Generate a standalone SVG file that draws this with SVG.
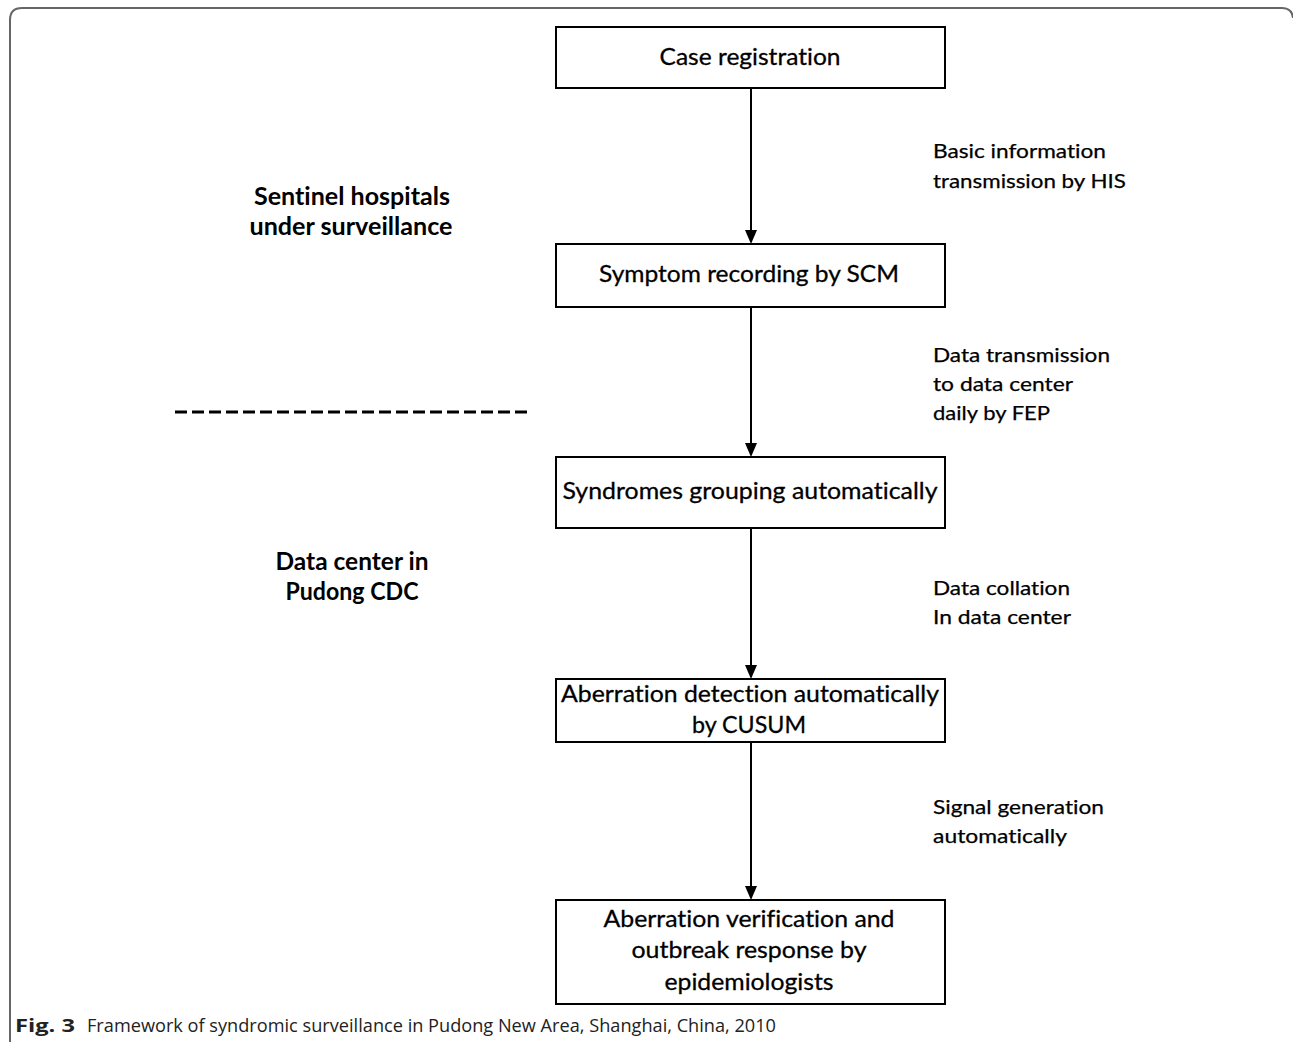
<svg xmlns="http://www.w3.org/2000/svg" width="1293" height="1042" viewBox="0 0 1293 1042">
<defs>
<style>
text{font-variant-ligatures:none;font-feature-settings:"liga" 0}
.box{fill:#fff;stroke:#000;stroke-width:2}
.bt{font-family:Lato,"Open Sans",sans-serif;font-size:24px;fill:#000;text-anchor:middle;stroke:#000;stroke-width:0.3}
.lbl{font-family:Lato,"Open Sans",sans-serif;font-size:20px;fill:#000;stroke:#000;stroke-width:0.25}
.side{font-family:Lato,"Open Sans",sans-serif;font-size:24px;font-weight:bold;fill:#000;text-anchor:middle}
.edge{stroke:#000;stroke-width:2;fill:none}
.cap{font-family:"Open Sans","Liberation Sans",sans-serif;font-size:18px;fill:#222}
</style>
</defs>
<rect width="1293" height="1042" fill="#fff"/>
<path d="M10,1042 V20 Q10,8 22,8 H1282 Q1292,8 1293,18" fill="none" stroke="#666" stroke-width="2"/>

<g id="connectors">
<line class="edge" x1="751" y1="88" x2="751" y2="230"/>
<path d="M745,230 L757,230 L751,244 Z" fill="#000"/>
<line class="edge" x1="751" y1="307" x2="751" y2="443"/>
<path d="M745,443 L757,443 L751,457 Z" fill="#000"/>
<line class="edge" x1="751" y1="528" x2="751" y2="665"/>
<path d="M745,665 L757,665 L751,679 Z" fill="#000"/>
<line class="edge" x1="751" y1="742" x2="751" y2="886"/>
<path d="M745,886 L757,886 L751,900 Z" fill="#000"/>
</g>

<g id="n1">
<rect class="box" x="556" y="27" width="389" height="61"/>
<text class="bt" x="750" y="65" textLength="181" lengthAdjust="spacingAndGlyphs">Case registration</text>
</g>
<g id="n2">
<rect class="box" x="556" y="244" width="389" height="63"/>
<text class="bt" x="749" y="282" textLength="300" lengthAdjust="spacingAndGlyphs">Symptom recording by SCM</text>
</g>
<g id="n3">
<rect class="box" x="556" y="457" width="389" height="71"/>
<text class="bt" x="750" y="499" textLength="375" lengthAdjust="spacingAndGlyphs">Syndromes grouping automatically</text>
</g>
<g id="n4">
<rect class="box" x="556" y="679" width="389" height="63"/>
<text class="bt" x="750" y="702" textLength="378" lengthAdjust="spacingAndGlyphs">Aberration detection automatically</text>
<text class="bt" x="749" y="733" textLength="114" lengthAdjust="spacingAndGlyphs">by CUSUM</text>
</g>
<g id="n5">
<rect class="box" x="556" y="900" width="389" height="104"/>
<text class="bt" x="749" y="927" textLength="291" lengthAdjust="spacingAndGlyphs">Aberration verification and</text>
<text class="bt" x="749" y="958" textLength="235" lengthAdjust="spacingAndGlyphs">outbreak response by</text>
<text class="bt" x="749" y="990" textLength="169" lengthAdjust="spacingAndGlyphs">epidemiologists</text>
</g>

<g id="edge-labels">
<text class="lbl" x="933" y="158" textLength="173" lengthAdjust="spacingAndGlyphs">Basic information</text>
<text class="lbl" x="933" y="188" textLength="193" lengthAdjust="spacingAndGlyphs">transmission by HIS</text>
<text class="lbl" x="933" y="362" textLength="177" lengthAdjust="spacingAndGlyphs">Data transmission</text>
<text class="lbl" x="933" y="391" textLength="140" lengthAdjust="spacingAndGlyphs">to data center</text>
<text class="lbl" x="933" y="420" textLength="117" lengthAdjust="spacingAndGlyphs">daily by FEP</text>
<text class="lbl" x="933" y="595" textLength="137" lengthAdjust="spacingAndGlyphs">Data collation</text>
<text class="lbl" x="933" y="624" textLength="138" lengthAdjust="spacingAndGlyphs">In data center</text>
<text class="lbl" x="933" y="814" textLength="171" lengthAdjust="spacingAndGlyphs">Signal generation</text>
<text class="lbl" x="933" y="843" textLength="134" lengthAdjust="spacingAndGlyphs">automatically</text>
</g>

<g id="region-sentinel">
<text class="side" x="352" y="205" textLength="196" lengthAdjust="spacingAndGlyphs">Sentinel hospitals</text>
<text class="side" x="351" y="235" textLength="203" lengthAdjust="spacingAndGlyphs">under surveillance</text>
</g>
<g id="separator">
<line x1="175" y1="412" x2="527" y2="412" stroke="#000" stroke-width="3" stroke-dasharray="12 5"/>
</g>
<g id="region-cdc">
<text class="side" x="352" y="570" textLength="153" lengthAdjust="spacingAndGlyphs">Data center in</text>
<text class="side" x="352" y="600" textLength="133" lengthAdjust="spacingAndGlyphs">Pudong CDC</text>
</g>

<g id="caption">
<text class="cap" x="15" y="1032" font-size="19" font-weight="bold" fill="#000" textLength="60" lengthAdjust="spacingAndGlyphs">Fig. 3</text>
<text class="cap" x="87" y="1032" textLength="689" lengthAdjust="spacingAndGlyphs">Framework of syndromic surveillance in Pudong New Area, Shanghai, China, 2010</text>
</g>
</svg>
